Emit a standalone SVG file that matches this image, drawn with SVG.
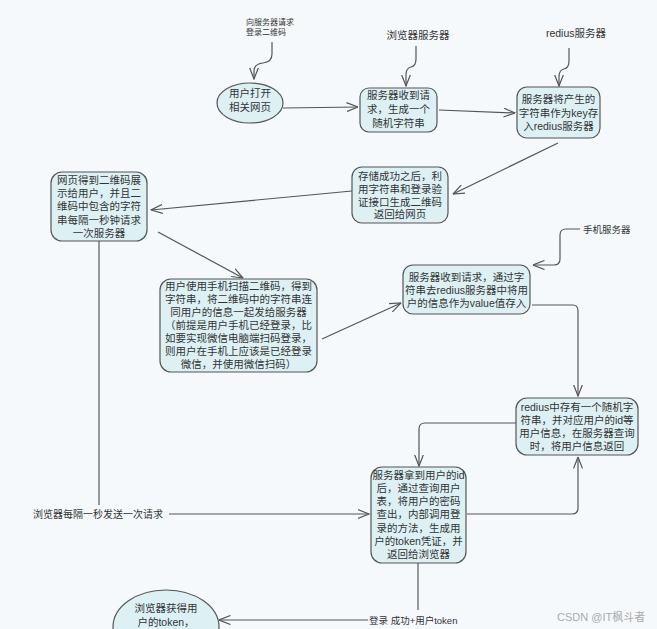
<svg xmlns="http://www.w3.org/2000/svg" width="657" height="629" viewBox="0 0 657 629">
<defs>
<marker id="arr" viewBox="0 0 12 10" refX="11.5" refY="5" markerWidth="12" markerHeight="10" markerUnits="userSpaceOnUse" orient="auto">
<path d="M0,0.5 L11.5,5 L0,9.5" fill="none" stroke="#555" stroke-width="1.2"/>
</marker>
<style>
.n{fill:#ddf1f5;stroke:#555;stroke-width:1.2}
.t{font-family:"Liberation Sans","Noto Sans CJK SC",sans-serif;font-size:10.5px;fill:#333;text-anchor:middle}
.l{font-family:"Liberation Sans","Noto Sans CJK SC",sans-serif;fill:#333}
.c{fill:none;stroke:#555;stroke-width:1.2}
.a{marker-end:url(#arr)}
</style>
</defs>
<rect width="657" height="629" fill="#f5f9fc"/>

<g id="connectors">
<path class="c a" d="M272,42 V54 Q272,62 263,63 Q254,64 254,71 V79"/>
<path class="c a" d="M416,46 V59 Q416,66 411,67 Q406,68 406,75 V86"/>
<path class="c a" d="M569,48 V61 Q569,68 564,69 Q559,70 559,77 V86"/>
<path class="c a" d="M283,108 L358,107"/>
<path class="c a" d="M439,110 L515,113"/>
<path class="c a" d="M558,143 L453,194"/>
<path class="c a" d="M352,191 L151,210"/>
<path class="c a" d="M158,232 L243,278"/>
<path class="c a" d="M322,339 L401,303"/>
<path class="c a" d="M580,229 H566 Q560,229 560,235 V259 Q560,265 554,265 H533"/>
<path class="c a" d="M532,305 H573 Q578,305 578,311 V396"/>
<path class="c a" d="M516,423 H425 Q419,423 419,429 V466"/>
<path class="c a" d="M467,514 H572 Q578,514 578,508 V457"/>
<path class="c" d="M99,241 V505"/>
<path class="c a" d="M169,514 H369"/>
<path class="c" d="M418,563 V610"/>
<path class="c a" d="M368,620 H219"/>
</g>

<g id="label-request">
<text class="l" font-size="8" x="246" y="25">向服务器请求</text>
<text class="l" font-size="8" x="246" y="35">登录二维码</text>
</g>
<g id="label-browser"><text class="t" font-size="10" x="418" y="39">浏览器服务器</text></g>
<g id="label-redius"><text class="t" font-size="10" x="576" y="37">redius服务器</text></g>
<g id="label-phone"><text class="l" font-size="9.5" x="583" y="233">手机服务器</text></g>
<g id="label-poll"><text class="l" font-size="10" x="33" y="518">浏览器每隔一秒发送一次请求</text></g>
<g id="label-login"><text class="l" font-size="9.5" x="369" y="624">登录 成功+用户token</text></g>

<g id="n1">
<ellipse class="n" cx="250" cy="103" rx="33" ry="20"/>
<text class="t" x="250" y="97">用户打开</text>
<text class="t" x="250" y="111">相关网页</text>
</g>
<g id="n2">
<rect class="n" x="360" y="88" width="77" height="44" rx="9"/>
<text class="t" x="398.5" y="99">服务器收到请</text>
<text class="t" x="398.5" y="113">求，生成一个</text>
<text class="t" x="398.5" y="127">随机字符串</text>
</g>
<g id="n3">
<rect class="n" x="517" y="87" width="83" height="51" rx="10"/>
<text class="t" x="558.5" y="103">服务器将产生的</text>
<text class="t" x="558.5" y="117">字符串作为key存</text>
<text class="t" x="558.5" y="130">入redius服务器</text>
</g>
<g id="n4">
<rect class="n" x="352" y="167" width="96" height="56" rx="10"/>
<text class="t" x="400" y="180">存储成功之后，利</text>
<text class="t" x="400" y="193">用字符串和登录验</text>
<text class="t" x="400" y="206">证接口生成二维码</text>
<text class="t" x="400" y="218">返回给网页</text>
</g>
<g id="n5">
<rect class="n" x="51" y="172" width="96" height="69" rx="11"/>
<text class="t" x="99" y="184">网页得到二维码展</text>
<text class="t" x="99" y="197">示给用户，并且二</text>
<text class="t" x="99" y="210">维码中包含的字符</text>
<text class="t" x="99" y="224">串每隔一秒钟请求</text>
<text class="t" x="99" y="237">一次服务器</text>
</g>
<g id="n6">
<rect class="n" x="160" y="279" width="157" height="93" rx="11"/>
<text class="t" x="238.5" y="290">用户使用手机扫描二维码，得到</text>
<text class="t" x="238.5" y="303">字符串，将二维码中的字符串连</text>
<text class="t" x="238.5" y="316">同用户的信息一起发给服务器</text>
<text class="t" x="238.5" y="329">（前提是用户手机已经登录，比</text>
<text class="t" x="238.5" y="342">如要实现微信电脑端扫码登录，</text>
<text class="t" x="238.5" y="355">则用户在手机上应该是已经登录</text>
<text class="t" x="238.5" y="368">微信，并使用微信扫码）</text>
</g>
<g id="n7">
<rect class="n" x="403" y="265" width="127" height="49" rx="10"/>
<text class="t" x="466.5" y="281">服务器收到请求，通过字</text>
<text class="t" x="466.5" y="294">符串去redius服务器中将用</text>
<text class="t" x="466.5" y="307">户的信息作为value值存入</text>
</g>
<g id="n8">
<rect class="n" x="516" y="398" width="122" height="57" rx="11"/>
<text class="t" x="577" y="411">redius中存有一个随机字</text>
<text class="t" x="577" y="424">符串，并对应用户的id等</text>
<text class="t" x="577" y="437">用户信息，在服务器查询</text>
<text class="t" x="577" y="450">时，将用户信息返回</text>
</g>
<g id="n9">
<rect class="n" x="371" y="467" width="95" height="96" rx="11"/>
<text class="t" x="418.5" y="479">服务器拿到用户的id</text>
<text class="t" x="418.5" y="492">后，通过查询用户</text>
<text class="t" x="418.5" y="505">表，将用户的密码</text>
<text class="t" x="418.5" y="518">查出，内部调用登</text>
<text class="t" x="418.5" y="532">录的方法，生成用</text>
<text class="t" x="418.5" y="545">户的token凭证，并</text>
<text class="t" x="418.5" y="558">返回给浏览器</text>
</g>
<g id="n10">
<ellipse class="n" cx="166" cy="627" rx="53" ry="37"/>
<text class="t" x="166" y="612">浏览器获得用</text>
<text class="t" x="166" y="626">户的token，</text>
</g>

<g id="watermark"><text class="l" font-size="11" x="557" y="621" style="fill:#aaa">CSDN @IT枫斗者</text></g>
</svg>
